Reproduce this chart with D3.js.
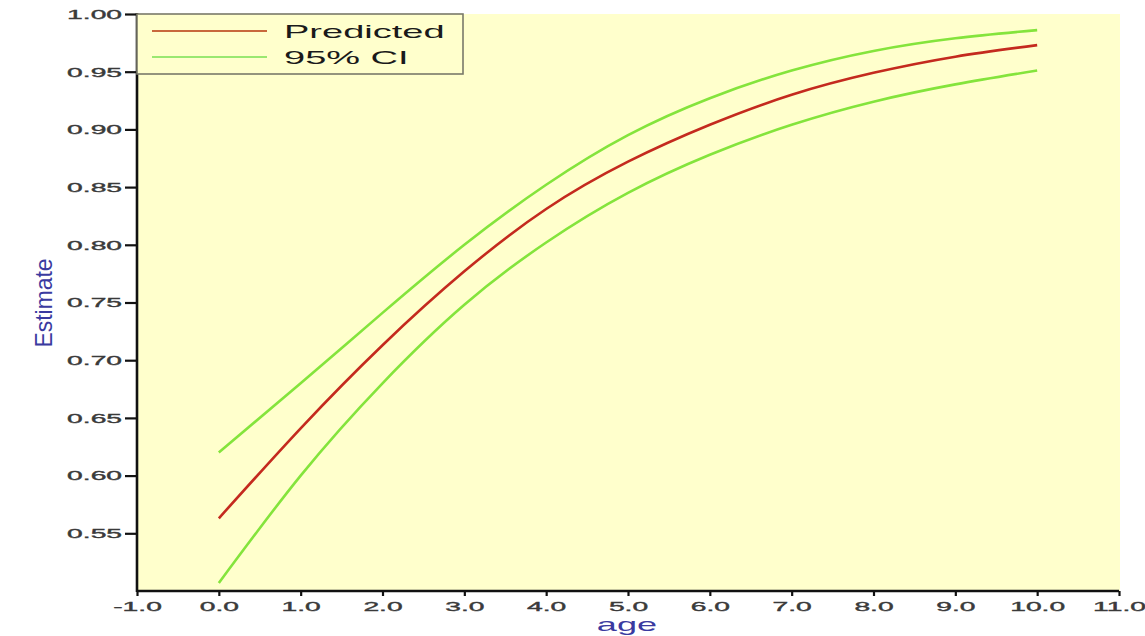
<!DOCTYPE html>
<html>
<head>
<meta charset="utf-8">
<script src="https://cdn.jsdelivr.net/npm/d3@7"></script>
<style>
  html, body { margin: 0; padding: 0; background: #ffffff; }
  svg { display: block; }
  text { font-family: "Liberation Sans", Arial, sans-serif; }
</style>
</head>
<body>
<svg id="chart" width="1145" height="636"></svg>
<script>
// ---- data ----
const ages = [0, 1, 2, 3, 4, 5, 6, 7, 8, 9, 10];
const predicted = [0.563, 0.641, 0.713, 0.777, 0.831, 0.872, 0.904, 0.930, 0.949, 0.963, 0.973];
const upperCI  = [0.620, 0.680, 0.741, 0.800, 0.852, 0.895, 0.927, 0.951, 0.968, 0.979, 0.986];
const lowerCI  = [0.507, 0.600, 0.680, 0.748, 0.802, 0.845, 0.878, 0.904, 0.924, 0.939, 0.951];
const xTicks = [-1, 0, 1, 2, 3, 4, 5, 6, 7, 8, 9, 10, 11];
const yTicks = [0.55, 0.60, 0.65, 0.70, 0.75, 0.80, 0.85, 0.90, 0.95, 1.00];
const legendLabels = ["Predicted", "95% CI"];

// ---- layout ----
const svg = d3.select("#chart");
const pLeft = 137, pRight = 1119, pTop = 14, pBottom = 591;
const x = d3.scaleLinear().domain([-1, 11]).range([pLeft, pRight]);
const y = d3.scaleLinear().domain([0.5, 1.0]).range([pBottom, pTop]);

const RED = "#c42a1e", GREEN = "#84e43c", BG = "#ffffcc";

function stretch(sel, factor) {
  sel.each(function () {
    const len = this.getComputedTextLength();
    d3.select(this).attr("textLength", len * factor).attr("lengthAdjust", "spacingAndGlyphs");
  });
}

// plot background
svg.append("rect")
  .attr("x", pLeft).attr("y", pTop)
  .attr("width", pRight - pLeft + 1).attr("height", pBottom - pTop)
  .attr("fill", BG);

// lines
const line = (vals) => d3.line()
  .x((d, i) => x(ages[i]))
  .y(d => y(d))
  .curve(d3.curveNatural)(vals);

svg.append("path").attr("d", line(upperCI)).attr("fill", "none")
  .attr("stroke", GREEN).attr("stroke-width", 2.6);
svg.append("path").attr("d", line(lowerCI)).attr("fill", "none")
  .attr("stroke", GREEN).attr("stroke-width", 2.6);
svg.append("path").attr("d", line(predicted)).attr("fill", "none")
  .attr("stroke", RED).attr("stroke-width", 2.6);

// y axis
const yAxis = svg.append("g")
  .attr("transform", `translate(${pLeft},0)`)
  .call(d3.axisLeft(y).tickValues(yTicks).tickFormat(d => d.toFixed(2)).tickSize(12).tickPadding(3));
yAxis.select(".domain").remove();
yAxis.selectAll(".tick line").attr("stroke", "#111").attr("stroke-width", 2.2);
yAxis.selectAll(".tick text")
  .attr("fill", "#3a3a3a").attr("stroke", "#3a3a3a").attr("stroke-width", 0.35)
  .style("font-size", "12px")
  .attr("dy", "0.36em");
stretch(yAxis.selectAll(".tick text"), 2.35);

// x axis
const xAxis = svg.append("g")
  .attr("transform", `translate(0,${pBottom})`)
  .call(d3.axisBottom(x).tickValues(xTicks).tickFormat(d => d.toFixed(1)).tickSize(5).tickPadding(6));
xAxis.select(".domain").remove();
xAxis.selectAll(".tick line").attr("stroke", "#111").attr("stroke-width", 2.2);
xAxis.selectAll(".tick text")
  .attr("fill", "#3a3a3a").attr("stroke", "#3a3a3a").attr("stroke-width", 0.35)
  .style("font-size", "12px");
stretch(xAxis.selectAll(".tick text"), 2.35);

// axis lines
svg.append("line").attr("x1", pLeft).attr("x2", pLeft).attr("y1", pTop - 1).attr("y2", pBottom + 1)
  .attr("stroke", "#111").attr("stroke-width", 2.6);
svg.append("line").attr("x1", pLeft).attr("x2", pRight).attr("y1", pBottom).attr("y2", pBottom)
  .attr("stroke", "#111").attr("stroke-width", 2.6);

// axis titles
const yt = svg.append("text")
  .attr("transform", `translate(52,303) rotate(-90)`)
  .attr("text-anchor", "middle")
  .attr("fill", "#3a3aa0").style("font-size", "24px")
  .text("Estimate");
yt.attr("textLength", 89).attr("lengthAdjust", "spacingAndGlyphs");

const xt = svg.append("text")
  .attr("x", 627).attr("y", 631)
  .attr("text-anchor", "middle")
  .attr("fill", "#3a3aa0").style("font-size", "19px")
  .text("age");
stretch(xt, 1.9);

// legend
const lg = svg.append("g");
lg.append("rect")
  .attr("x", pLeft).attr("y", pTop)
  .attr("width", 326).attr("height", 60)
  .attr("fill", BG).attr("stroke", "#7a7a6a").attr("stroke-width", 1.6);
const legendY = [31, 57];
legendLabels.forEach((lab, i) => {
  lg.append("line")
    .attr("x1", 152).attr("x2", 267)
    .attr("y1", legendY[i]).attr("y2", legendY[i])
    .attr("stroke", i === 0 ? "#c8683c" : "#9ae870").attr("stroke-width", 2);
  const t = lg.append("text")
    .attr("x", 284).attr("y", legendY[i] + 7)
    .attr("fill", "#1a1a1a").style("font-size", "19px")
    .text(lab);
  stretch(t, 2.0);
});
</script>
</body>
</html>
